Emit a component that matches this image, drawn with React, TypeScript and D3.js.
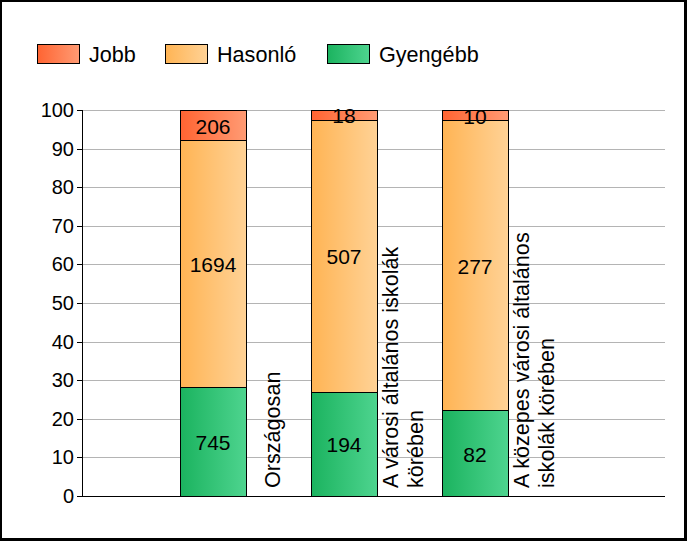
import React from "react";
import * as d3 from "d3";

const categories = ["Országosan", "A városi általános iskolák körében", "A közepes városi általános iskolák körében"];
const categoryLines = [["Országosan"], ["A városi általános iskolák", "körében"], ["A közepes városi általános", "iskolák körében"]];
const seriesNames = ["Jobb", "Hasonló", "Gyengébb"];
const jobb = [206, 18, 10];
const hasonlo = [1694, 507, 277];
const gyengebb = [745, 194, 82];
const yTicks = [0, 10, 20, 30, 40, 50, 60, 70, 80, 90, 100];

const colors: Record<string, [string, string]> = {
  Jobb: ["#ff6432", "#ff9b74"],
  "Hasonló": ["#ffb454", "#ffd296"],
  "Gyengébb": ["#1bb35f", "#4ed48f"],
};

const W = 687;
const H = 541;
const FONT = "'Liberation Sans', Arial, sans-serif";

export default function App() {
  const y = d3.scaleLinear().domain([0, 100]).range([496, 110]);
  const x = d3.scaleLinear().domain([0, 4.45]).range([82, 665]);
  const barW = 66;

  const rows = categories.map((c, i) => ({
    cat: c,
    "Gyengébb": gyengebb[i],
    "Hasonló": hasonlo[i],
    Jobb: jobb[i],
  }));
  const stack = d3
    .stack<any>()
    .keys(["Gyengébb", "Hasonló", "Jobb"])
    .offset(d3.stackOffsetExpand);
  const layers = stack(rows);

  const legendX = [37, 165, 327];

  return (
    <svg
      width={W}
      height={H}
      style={{ position: "absolute", left: 0, top: 0, display: "block" }}
      fontFamily={FONT}
    >
      <defs>
        {Object.entries(colors).map(([k, [a, b]], i) => (
          <linearGradient key={k} id={`g${i}`} x1="0" x2="1" y1="0" y2="0">
            <stop offset="0" stopColor={a} />
            <stop offset="1" stopColor={b} />
          </linearGradient>
        ))}
      </defs>
      <rect x={0} y={0} width={W} height={H} fill="#000" />
      <rect x={2} y={2} width={682} height={536} fill="#fff" />

      {/* legend */}
      {seriesNames.map((s, i) => (
        <g key={s}>
          <rect
            x={legendX[i] + 0.5}
            y={44.5}
            width={42}
            height={19}
            fill={`url(#g${Object.keys(colors).indexOf(s)})`}
            stroke="#000"
            strokeWidth={1}
          />
          <text x={legendX[i] + 52} y={54} dominantBaseline="central" fontSize={21.6} fill="#000">
            {s}
          </text>
        </g>
      ))}

      {/* gridlines */}
      {yTicks.map((t) => (
        <line key={t} x1={82} x2={665} y1={Math.round(y(t)) + 0.5} y2={Math.round(y(t)) + 0.5} stroke="#b4b4b4" strokeWidth={1} />
      ))}

      {/* bars */}
      {layers.map((layer) =>
        layer.map((d, i) => {
          const key = layer.key;
          const ci = Object.keys(colors).indexOf(key);
          const cx = x(i + 1);
          const y0 = y(d[0] * 100);
          const y1 = y(d[1] * 100);
          const val = (rows[i] as any)[key];
          return (
            <g key={key + i}>
              <rect
                x={Math.round(cx - barW / 2) + 0.5}
                y={Math.round(y1) + 0.5}
                width={barW}
                height={Math.round(y0) - Math.round(y1)}
                fill={`url(#g${ci})`}
                stroke="#000"
                strokeWidth={1}
              />
              <text
                x={cx}
                y={(y0 + y1) / 2 + 1}
                textAnchor="middle"
                dominantBaseline="central"
                fontSize={21}
                fill="#000"
              >
                {val}
              </text>
            </g>
          );
        })
      )}

      {/* axes */}
      <line x1={82.5} x2={82.5} y1={110} y2={496.5} stroke="#000" strokeWidth={1} />
      <line x1={82} x2={665} y1={496.5} y2={496.5} stroke="#000" strokeWidth={1} />
      {yTicks.map((t) => (
        <g key={"t" + t}>
          <line x1={77} x2={82} y1={Math.round(y(t)) + 0.5} y2={Math.round(y(t)) + 0.5} stroke="#000" strokeWidth={1} />
          <text x={74} y={y(t)} textAnchor="end" dominantBaseline="central" fontSize={20} fill="#000">
            {t}
          </text>
        </g>
      ))}

      {/* category labels */}
      {categoryLines.map((lines, i) => {
        const cx = x(i + 1) + barW / 2 + 26;
        const n = lines.length;
        return lines.map((ln, j) => {
          const lx = cx + (j - (n - 1) / 2) * 25;
          return (
            <text
              key={i + "-" + j}
              transform={`translate(${lx},488) rotate(-90)`}
              textAnchor="start"
              dominantBaseline="central"
              fontSize={21.6}
              fill="#000"
            >
              {ln}
            </text>
          );
        });
      })}
    </svg>
  );
}
